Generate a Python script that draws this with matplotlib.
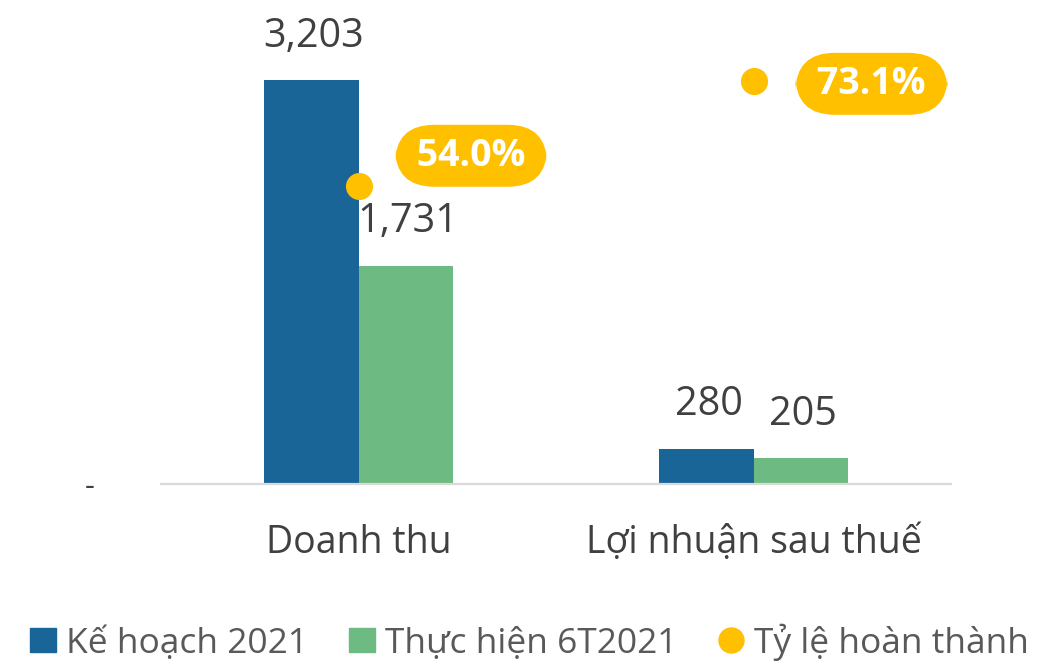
import matplotlib
matplotlib.use("Agg")
import matplotlib.pyplot as plt
from matplotlib.patches import Patch
from matplotlib.lines import Line2D

categories = ["Doanh thu", "Lợi nhuận sau thuế"]
ke_hoach = [3203, 280]
thuc_hien = [1731, 205]
ty_le = [0.540, 0.731]
series_names = ["Kế hoạch 2021", "Thực hiện 6T2021", "Tỷ lệ hoàn thành"]

C_BLUE = "#196597"
C_GREEN = "#6DBB82"
C_YELLOW = "#FFC000"
C_TEXT = "#404040"

plt.rcParams["font.family"] = ["Open Sans", "DejaVu Sans"]

fig = plt.figure(figsize=(10.53, 6.62), dpi=100)
ax = fig.add_axes([161/1053, 1 - 484/662, 790/1053, 441/662])
ax2 = ax.twinx()

x = list(range(len(categories)))
w = 0.238
b1 = ax.bar([i - w/2 for i in x], ke_hoach, width=w, color=C_BLUE, zorder=2)
b2 = ax.bar([i + w/2 for i in x], thuc_hien, width=w, color=C_GREEN, zorder=2)

for bars, vals in ((b1, ke_hoach), (b2, thuc_hien)):
    for r, v in zip(bars, vals):
        ax.annotate(f"{v:,}", (r.get_x() + r.get_width()/2, v), xytext=(1.5, 17),
                    textcoords="offset points", ha="center", va="bottom",
                    fontsize=28.5, color=C_TEXT)

ax.set_ylim(0, 3500)
ax.set_xlim(-0.5, 1.5)
ax.set_xticks(x)
ax.set_xticklabels(categories, fontsize=27, color=C_TEXT)
ax.tick_params(axis="x", length=0, pad=29)
ax.set_yticks([0])
ax.set_yticklabels(["-"], fontsize=22, color=C_TEXT)
ax.tick_params(axis="y", length=0, pad=48)
for s in ("top", "right", "left"):
    ax.spines[s].set_visible(False)
ax.spines["bottom"].set_color("#D9D9D9")
ax.spines["bottom"].set_linewidth(1.6)

ax2.plot(x, ty_le, linestyle="none", marker="o", markersize=18.5,
         color=C_YELLOW, zorder=3)
ax2.set_ylim(0, 0.8)
ax2.set_yticks([])
for s in ax2.spines.values():
    s.set_visible(False)

label_offsets = [(81, 22), (85, -2)]
for xi, v, off in zip(x, ty_le, label_offsets):
    ax2.annotate(f" {v*100:.1f}% ", (xi, v), xytext=off, textcoords="offset points",
                 ha="center", va="center", fontsize=27, fontweight="bold",
                 color="white",
                 bbox=dict(boxstyle="round,pad=0.32,rounding_size=1.05",
                           fc=C_YELLOW, ec="none"))

handles = [Patch(color=C_BLUE), Patch(color=C_GREEN),
           Line2D([], [], linestyle="none", marker="o", markersize=18,
                  color=C_YELLOW)]
leg = fig.legend(handles, series_names, loc="center", ncol=3,
                 bbox_to_anchor=(529.5/1053, 1 - 642/662), frameon=False,
                 prop={"family": ["Open Sans", "DejaVu Sans"], "size": 25.5},
                 labelcolor="#595959", handlelength=0.74, handleheight=0.68,
                 handletextpad=0.28, columnspacing=1.15, borderpad=0,
                 borderaxespad=0)

fig.savefig("out.png", dpi=100)
